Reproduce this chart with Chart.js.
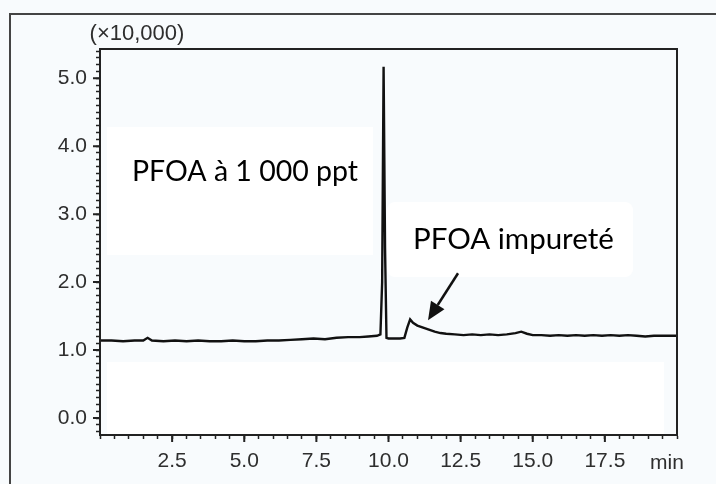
<!DOCTYPE html>
<html><head><meta charset="utf-8">
<script src="https://cdn.jsdelivr.net/npm/chart.js@4/dist/chart.umd.min.js"></script>
<style>html,body{margin:0;padding:0;background:#f8fbfd;}#wrap{width:716px;height:484px;position:relative;}</style>
</head><body><div id="wrap"><canvas id="c" width="716" height="484"></canvas></div>
<script>
// Retention time (min)
const times = [0.0,0.4,0.8,1.2,1.5,1.65,1.8,2.2,2.6,3.0,3.4,3.8,4.2,4.6,5.0,5.4,5.8,6.2,6.6,7.0,7.4,7.8,8.2,8.6,9.0,9.3,9.6,9.72,9.78,9.83,9.88,9.93,10.0,10.2,10.4,10.55,10.65,10.75,10.85,11.0,11.2,11.4,11.6,11.8,12.0,12.3,12.6,12.9,13.2,13.5,13.8,14.1,14.4,14.6,14.8,15.0,15.3,15.6,15.9,16.2,16.5,16.8,17.1,17.4,17.7,18.0,18.3,18.6,18.9,19.2,19.5,19.9,20.0];
// Intensity (x10,000)
const intensities = [1.14,1.14,1.13,1.14,1.14,1.18,1.14,1.13,1.14,1.13,1.14,1.13,1.13,1.14,1.13,1.13,1.14,1.14,1.15,1.16,1.17,1.16,1.18,1.19,1.19,1.20,1.21,1.23,2.0,5.17,2.5,1.18,1.17,1.17,1.17,1.18,1.33,1.45,1.40,1.36,1.33,1.30,1.27,1.25,1.24,1.23,1.22,1.23,1.22,1.23,1.22,1.23,1.25,1.27,1.24,1.22,1.22,1.21,1.22,1.21,1.22,1.21,1.22,1.21,1.22,1.21,1.22,1.21,1.20,1.21,1.21,1.21,1.21];
const xTickLabels = [2.5,5.0,7.5,10.0,12.5,15.0,17.5];
const yTickLabels = [0,1,2,3,4,5];
const yUnitLabel = '(×10,000)';
const xUnitLabel = 'min';
const peakLabel = 'PFOA à 1 000 ppt';
const impurityLabel = 'PFOA impureté';
const arrowFrom = [12.41, 2.13];
const arrowTo = [11.37, 1.44];

const near = (v, arr) => arr.some(a => Math.abs(a - v) < 1e-6);
const tickFont = {family: '"Liberation Sans", Arial, sans-serif', size: 21};
const tickColor = '#2e2e2e';

const decor = {
  id: 'decor',
  beforeDraw(chart) {
    const ctx = chart.ctx, a = chart.chartArea;
    ctx.save();
    ctx.fillStyle = '#f8fbfd';
    ctx.fillRect(0, 0, chart.width, chart.height);
    ctx.fillStyle = '#ffffff';
    ctx.fillRect(107, 127, 266, 128);
    ctx.fillRect(a.left + 7, 362, a.right - a.left - 20, a.bottom - 362);
    ctx.beginPath();
    ctx.roundRect(387, 202, 246, 75, 8);
    ctx.fill();
    // outer frame
    ctx.strokeStyle = '#444';
    ctx.lineWidth = 2;
    ctx.beginPath();
    ctx.moveTo(10, 500); ctx.lineTo(10, 14); ctx.lineTo(730, 14);
    ctx.stroke();
    ctx.restore();
  },
  afterDraw(chart) {
    const ctx = chart.ctx, a = chart.chartArea;
    const xs = chart.scales.x, ys = chart.scales.y;
    ctx.save();
    // plot box
    ctx.strokeStyle = '#222';
    ctx.lineWidth = 2;
    ctx.strokeRect(a.left, a.top, a.right - a.left, a.bottom - a.top);
    // longer major ticks
    ctx.lineWidth = 2;
    ctx.beginPath();
    xTickLabels.forEach(v => { const p = xs.getPixelForValue(v); ctx.moveTo(p, a.bottom); ctx.lineTo(p, a.bottom + 7); });
    yTickLabels.forEach(v => { const p = ys.getPixelForValue(v); ctx.moveTo(a.left, p); ctx.lineTo(a.left - 7, p); });
    ctx.stroke();
    // unit labels
    ctx.fillStyle = tickColor;
    ctx.font = '22px "Liberation Sans", Arial, sans-serif';
    ctx.textBaseline = 'middle';
    ctx.textAlign = 'center';
    ctx.fillText(yUnitLabel, 137, 34);
    ctx.textAlign = 'left';
    ctx.font = '21px "Liberation Sans", Arial, sans-serif';
    ctx.fillText(xUnitLabel, 650, 463);
    // annotations
    ctx.fillStyle = '#000';
    ctx.textBaseline = 'alphabetic';
    ctx.font = '28.5px Lato, "Open Sans", sans-serif';
    ctx.fillText(peakLabel, 132, 181);
    ctx.font = '29.5px Lato, "Open Sans", sans-serif';
    ctx.fillText(impurityLabel, 413, 249);
    // arrow
    const x1 = xs.getPixelForValue(arrowFrom[0]), y1 = ys.getPixelForValue(arrowFrom[1]);
    const x2 = xs.getPixelForValue(arrowTo[0]), y2 = ys.getPixelForValue(arrowTo[1]);
    const ang = Math.atan2(y2 - y1, x2 - x1);
    const hl = 18, hw = 8;
    const bx = x2 - hl * Math.cos(ang), by = y2 - hl * Math.sin(ang);
    ctx.strokeStyle = '#111';
    ctx.lineWidth = 2.5;
    ctx.beginPath(); ctx.moveTo(x1, y1); ctx.lineTo(bx, by); ctx.stroke();
    ctx.fillStyle = '#111';
    ctx.beginPath();
    ctx.moveTo(x2, y2);
    ctx.lineTo(bx + hw * Math.sin(ang), by - hw * Math.cos(ang));
    ctx.lineTo(bx - hw * Math.sin(ang), by + hw * Math.cos(ang));
    ctx.closePath(); ctx.fill();
    ctx.restore();
  }
};

new Chart(document.getElementById('c'), {
  type: 'scatter',
  data: {datasets: [{
    data: times.map((t, i) => ({x: t, y: intensities[i]})),
    showLine: true, borderColor: '#111', borderWidth: 2.4, pointRadius: 0, tension: 0
  }]},
  options: {
    responsive: false, animation: false,
    layout: {padding: {left: 10, top: 49, right: 39, bottom: 9}},
    plugins: {legend: {display: false}, tooltip: {enabled: false}},
    scales: {
      x: {
        type: 'linear', min: 0, max: 20,
        afterFit: s => { s.height = 40; },
        border: {display: true, color: '#222', width: 2},
        grid: {drawOnChartArea: false, tickLength: 4, tickColor: '#222', tickWidth: 1.5},
        ticks: {stepSize: 0.5, autoSkip: false, includeBounds: false, maxRotation: 0, padding: 10,
          color: tickColor, font: tickFont,
          callback: v => near(v, xTickLabels) ? v.toFixed(1) : ''}
      },
      y: {
        type: 'linear', min: -0.25, max: 5.43,
        afterFit: s => { s.width = 90; },
        border: {display: true, color: '#222', width: 2},
        grid: {drawOnChartArea: false, tickLength: 4, tickColor: '#222', tickWidth: 1.5},
        ticks: {stepSize: 0.1, autoSkip: false, includeBounds: false, padding: 9,
          color: tickColor, font: tickFont,
          callback: v => near(v, yTickLabels) ? v.toFixed(1) : ''}
      }
    }
  },
  plugins: [decor]
});
</script></body></html>
